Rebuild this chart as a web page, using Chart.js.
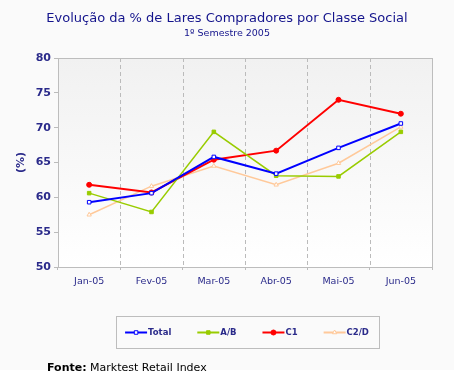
<!DOCTYPE html>
<html>
<head>
<meta charset="utf-8">
<script src="https://cdn.jsdelivr.net/npm/chart.js@4/dist/chart.umd.min.js"></script>
<style>
  body { margin: 0; background: #ffffff; }
  #wrap { position: relative; width: 454px; height: 380px; overflow: hidden; }
  #graf { position: absolute; left: 0; top: 0; }
  .titulo { position: absolute; left: 0; width: 454px; text-align: center; color: #14148c; font-family: "DejaVu Sans", Verdana, sans-serif; }
  #t1 { top: 10px; font-size: 13px; }
  #t2 { top: 27px; font-size: 9.5px; }
  #fonte { position: absolute; left: 47px; top: 361px; font-family: "DejaVu Sans", Verdana, sans-serif; font-size: 11px; color: #000; }
</style>
</head>
<body>
<div id="wrap">
  <canvas id="graf" width="454" height="380"></canvas>
  <div class="titulo" id="t1">Evolução da % de Lares Compradores por Classe Social</div>
  <div class="titulo" id="t2">1º Semestre 2005</div>
  <div id="fonte"><b>Fonte:</b> Marktest Retail Index</div>
</div>
<script>
// dados
var meses = ['Jan-05', 'Fev-05', 'Mar-05', 'Abr-05', 'Mai-05', 'Jun-05'];
var total = [59.3, 60.6, 65.8, 63.4, 67.1, 70.6];
var ab    = [60.6, 57.9, 69.4, 63.1, 63.0, 69.4];
var c1    = [61.8, 60.7, 65.4, 66.7, 74.0, 72.0];
var c2d   = [57.5, 61.6, 64.5, 61.8, 64.9, 70.1];
var yTicks = [50, 55, 60, 65, 70, 75, 80];

var azul = '#2a2a8a';

function serie(label, data, cor, estilo, largura, fundo) {
  return {
    label: label,
    data: data,
    borderColor: cor,
    backgroundColor: fundo,
    borderWidth: largura,
    pointStyle: estilo,
    pointRadius: 2.5,
    pointBorderWidth: 1,
    pointBorderColor: cor,
    pointBackgroundColor: fundo,
    tension: 0
  };
}

// fundo da pagina + gradiente da area do grafico
var fundoPlugin = {
  id: 'fundo',
  beforeDraw: function(chart) {
    var ctx = chart.ctx, a = chart.chartArea;
    ctx.save();
    ctx.fillStyle = '#fafafa';
    ctx.fillRect(0, 0, chart.width, 370);
    var g = ctx.createLinearGradient(0, a.top, 0, a.bottom);
    g.addColorStop(0, '#f1f1f1');
    g.addColorStop(1, '#ffffff');
    ctx.fillStyle = g;
    ctx.fillRect(a.left, a.top, a.right - a.left, a.bottom - a.top);
    ctx.restore();
  },
  afterDatasetsDraw: function(chart) {
    var ctx = chart.ctx, a = chart.chartArea;
    ctx.save();
    ctx.strokeStyle = '#bdbdbd';
    ctx.lineWidth = 1;
    ctx.strokeRect(Math.round(a.left) + 0.5, Math.round(a.top) + 0.5,
      Math.round(a.right - a.left), Math.round(a.bottom - a.top));
    ctx.restore();
  }
};

// legenda com caixa, linha + marcador
var legendaPlugin = {
  id: 'legendaCaixa',
  afterDraw: function(chart) {
    var ctx = chart.ctx;
    var bx = 116, by = 316, bw = 263, bh = 32;
    ctx.save();
    ctx.strokeStyle = '#bdbdbd';
    ctx.lineWidth = 1;
    ctx.strokeRect(bx + 0.5, by + 0.5, bw, bh);
    ctx.font = 'bold 8.5px "DejaVu Sans", Verdana, sans-serif';
    ctx.textBaseline = 'middle';
    var gap = 25, lin = 22;
    var ds = chart.data.datasets;
    var larg = 0;
    ds.forEach(function(d, i) {
      larg += lin + 2 + ctx.measureText(d.label).width + (i < ds.length - 1 ? gap : 0);
    });
    var x = bx + (bw - larg) / 2;
    var y = by + bh / 2 + 0.5;
    ds.forEach(function(d) {
      ctx.strokeStyle = d.borderColor;
      ctx.lineWidth = 2;
      ctx.beginPath();
      ctx.moveTo(x, y);
      ctx.lineTo(x + lin, y);
      ctx.stroke();
      ctx.fillStyle = d.pointBackgroundColor;
      ctx.strokeStyle = d.borderColor;
      ctx.lineWidth = 1;
      Chart.helpers.drawPoint(ctx, { pointStyle: d.pointStyle, radius: 2.5, borderWidth: 1 }, x + lin / 2, y);
      ctx.fillStyle = azul;
      ctx.fillText(d.label, x + lin + 1, y);
      x += lin + 2 + ctx.measureText(d.label).width + gap;
    });
    ctx.restore();
  }
};

new Chart(document.getElementById('graf'), {
  type: 'line',
  data: {
    labels: meses,
    datasets: [
      serie('Total', total, '#0000ff', 'rect', 2, '#ffffff'),
      serie('A/B', ab, '#99cc00', 'rect', 1.5, '#99cc00'),
      serie('C1', c1, '#ff0000', 'circle', 2, '#ff0000'),
      serie('C2/D', c2d, '#ffc99a', 'triangle', 1.5, '#ffffff')
    ]
  },
  options: {
    responsive: false,
    animation: false,
    layout: { padding: { left: 0, top: 58, right: 22, bottom: 0 } },
    plugins: {
      legend: { display: false },
      title: { display: false },
      tooltip: { enabled: false }
    },
    scales: {
      x: {
        offset: true,
        afterFit: function(s) { s.height = 113; },
        grid: {
          offset: true,
          drawOnChartArea: false,
          drawTicks: true,
          tickLength: 3,
          tickColor: '#bbbbbb'
        },
        border: { display: false },
        ticks: {
          color: azul,
          font: { family: '"DejaVu Sans", Verdana, sans-serif', size: 9.5 },
          padding: 6,
          maxRotation: 0
        }
      },
      y: {
        min: 50,
        max: 80,
        afterFit: function(s) { s.width = 58; },
        afterBuildTicks: function(s) { s.ticks = yTicks.map(function(v) { return { value: v }; }); },
        grid: {
          display: true,
          drawOnChartArea: false,
          drawTicks: true,
          tickLength: 4,
          tickColor: '#bbbbbb'
        },
        border: { display: false },
        title: {
          display: true,
          text: '(%)',
          color: azul,
          font: { family: '"DejaVu Sans", Verdana, sans-serif', size: 11, weight: 'bold' },
          padding: { top: 15, bottom: 0 }
        },
        ticks: {
          color: azul,
          font: { family: '"DejaVu Sans", Verdana, sans-serif', size: 11, weight: 'bold' },
          padding: 3
        }
      }
    }
  },
  plugins: [fundoPlugin, legendaPlugin, {
    id: 'tracejado',
    beforeDatasetsDraw: function(chart) {
      // linhas verticais tracejadas entre as categorias
      var ctx = chart.ctx, a = chart.chartArea, x = chart.scales.x;
      ctx.save();
      ctx.strokeStyle = '#bbbbbb';
      ctx.lineWidth = 1;
      ctx.setLineDash([4, 3]);
      for (var i = 1; i < meses.length; i++) {
        var px = Math.round((x.getPixelForTick(i - 1) + x.getPixelForTick(i)) / 2) + 0.5;
        ctx.beginPath();
        ctx.moveTo(px, a.top);
        ctx.lineTo(px, a.bottom);
        ctx.stroke();
      }
      ctx.restore();
    }
  }]
});
</script>
</body>
</html>
